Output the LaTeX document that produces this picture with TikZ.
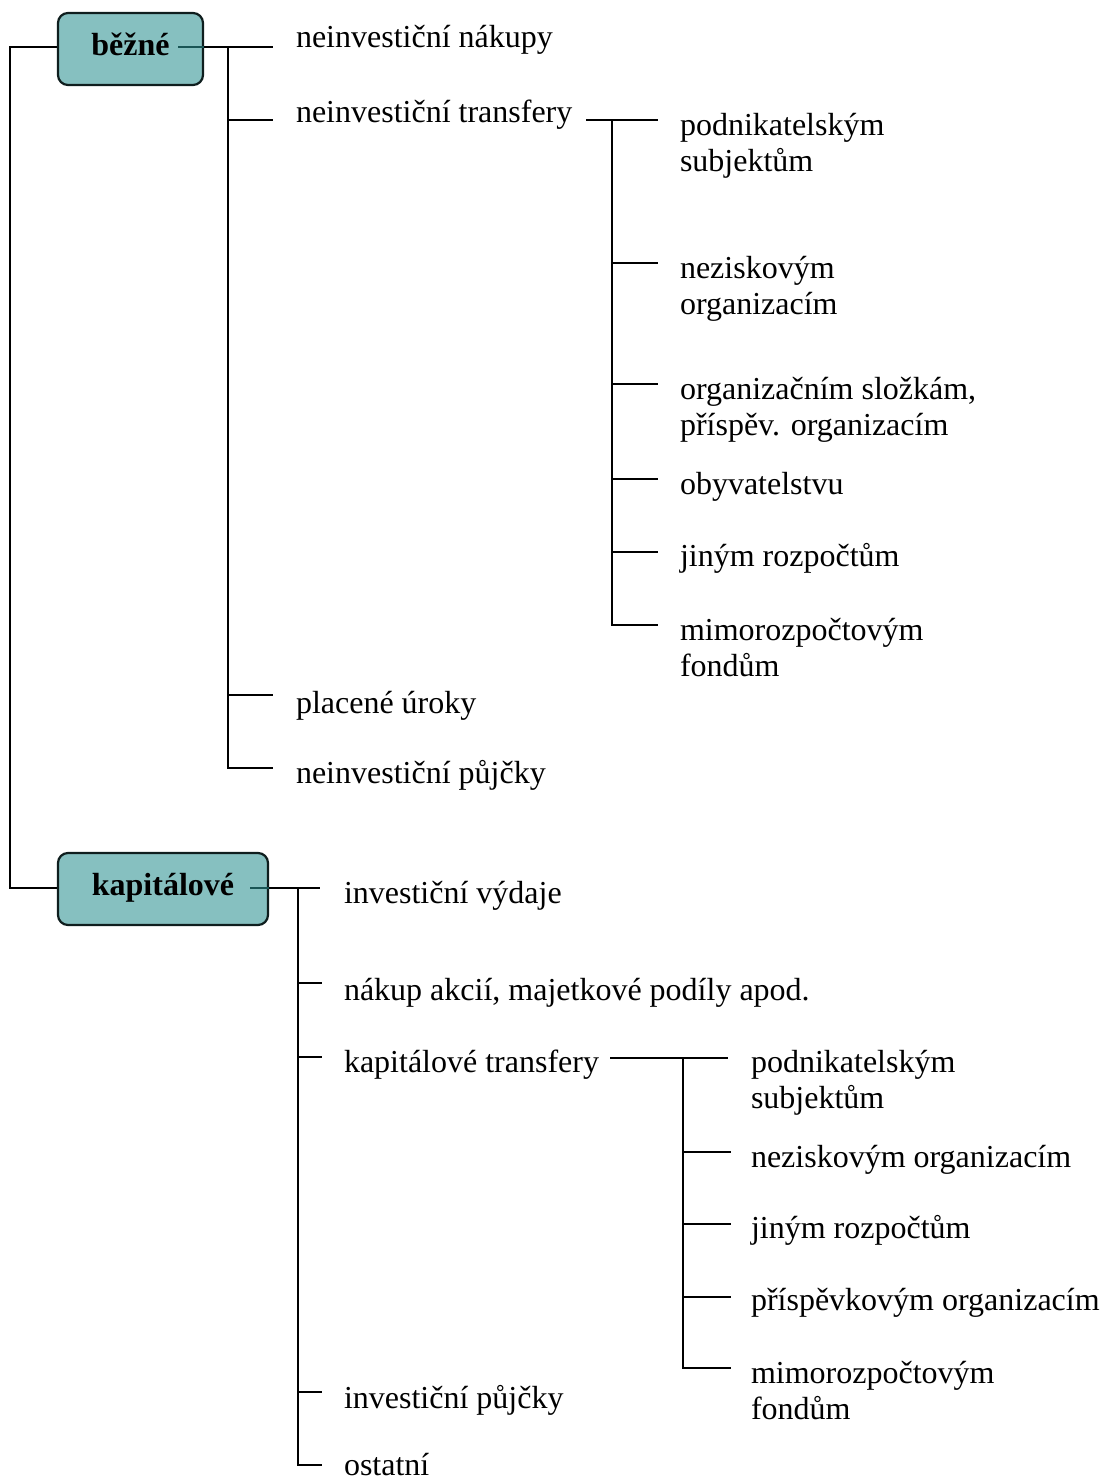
\documentclass[tikz,border=0pt]{standalone}
\usepackage{fontspec}
\setmainfont{Liberation Serif}
\usetikzlibrary{calc}
\definecolor{boxfill}{RGB}{134,192,192}
\definecolor{boxedge}{RGB}{15,30,30}
\definecolor{innerline}{RGB}{25,85,85}
\newcommand{\twolines}[2]{\begin{tabular}[t]{@{}l@{}}#1\\#2\end{tabular}}

\begin{document}
\begin{tikzpicture}[x=1pt,y=-1pt,
  line width=2pt,
  item/.style={anchor=base west, inner sep=0pt, font=\fontsize{32}{36}\selectfont},
  catbox/.style={draw=boxedge, line width=2.2pt, fill=boxfill, rounded corners=10pt,
                 inner sep=0pt, text height=20pt, text depth=8pt,
                 font=\fontsize{32}{36}\selectfont\bfseries},
  link/.style={draw=black, line width=2pt},
  innerlink/.style={draw=innerline, line width=2pt}]
\useasboundingbox (0,0) rectangle (1109,1481);

% ---------- category boxes ----------
\node[catbox, minimum width=145pt, minimum height=72pt] (bezne) at (130.5,49) {běžné};
\node[catbox, minimum width=210pt, minimum height=72pt] (kap) at (163,889) {kapitálové};

% ---------- běžné: first level ----------
\node[item] (n1) at (295,47)  {neinvestiční nákupy};
\node[item] (n2) at (295,122) {neinvestiční transfery};
\node[item] (n3) at (295,713) {placené úroky};
\node[item] (n4) at (295,783) {neinvestiční půjčky};

% neinvestiční transfery: recipients
\node[item] (t1) at (679,135) {\twolines{podnikatelským}{subjektům}};
\node[item] (t2) at (679,278) {\twolines{neziskovým}{organizacím}};
\node[item] (t3) at (679,399) {\twolines{organizačním složkám,}{příspěv. organizacím}};
\node[item] (t4) at (679,494) {obyvatelstvu};
\node[item] (t5) at (679,566) {jiným rozpočtům};
\node[item] (t6) at (679,640) {\twolines{mimorozpočtovým}{fondům}};

% ---------- kapitálové: first level ----------
\node[item] (k1) at (343,903)  {investiční výdaje};
\node[item] (k2) at (343,1000) {nákup akcií, majetkové podíly apod.};
\node[item] (k3) at (343,1072) {kapitálové transfery};
\node[item] (k4) at (343,1408) {investiční půjčky};
\node[item] (k5) at (343,1475) {ostatní};

% kapitálové transfery: recipients
\node[item] (s1) at (750,1072) {\twolines{podnikatelským}{subjektům}};
\node[item] (s2) at (750,1167) {neziskovým organizacím};
\node[item] (s3) at (750,1238) {jiným rozpočtům};
\node[item] (s4) at (750,1310) {příspěvkovým organizacím};
\node[item] (s5) at (750,1383) {\twolines{mimorozpočtovým}{fondům}};

% ---------- junction points ----------
\coordinate (root1) at (10,47);
\coordinate (root2) at (10,888);
\coordinate (bj) at (228,47);
\coordinate (bend) at (273,47);
\coordinate (tj) at (612,120);
\coordinate (kj) at (298,888);
\coordinate (kend) at (320,888);
\coordinate (sj) at (683,1058);

% ---------- connectors ----------
% main spine joining both categories
\draw[link] (bezne.west |- root1) -- (root1) -- (root2) -- (kap.west |- root2);

% běžné
\draw[innerlink] (178,47) -- (bezne.east |- bj);
\draw[link] (bezne.east |- bj) -- (bend);
\draw[link] (bj) -- (bj |- 0,768) -- (273,768);
\draw[link] (bj |- 0,120) -- (273,120);
\draw[link] (bj |- 0,695) -- (273,695);

% neinvestiční transfery
\draw[link] (586,120) -- (658,120);
\draw[link] (tj) -- (tj |- 0,625) -- (658,625);
\foreach \yy in {263,384,479,552}
  \draw[link] (tj |- 0,\yy) -- (658,\yy);

% kapitálové
\draw[innerlink] (250,888) -- (kap.east |- kj);
\draw[link] (kap.east |- kj) -- (kend);
\draw[link] (kj) -- (kj |- 0,1465) -- (322,1465);
\foreach \yy in {983,1057,1392}
  \draw[link] (kj |- 0,\yy) -- (322,\yy);

% kapitálové transfery
\draw[link] (610,1058) -- (728,1058);
\draw[link] (sj) -- (sj |- 0,1368) -- (731,1368);
\foreach \yy in {1152,1224,1297}
  \draw[link] (sj |- 0,\yy) -- (731,\yy);
\end{tikzpicture}
\end{document}
